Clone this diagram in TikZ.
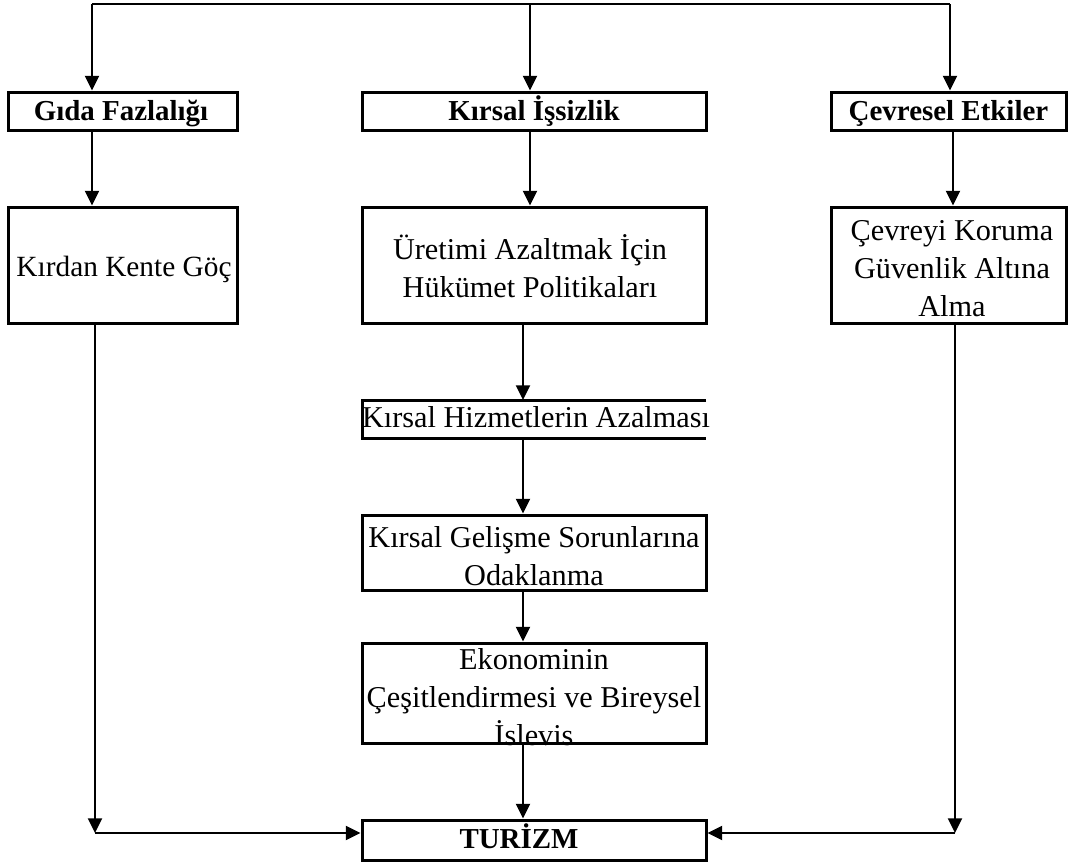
\documentclass[tikz,border=0pt]{standalone}
\usepackage{fontspec}
\setmainfont{Liberation Serif}
\usetikzlibrary{arrows.meta}
\begin{document}
\begin{tikzpicture}[x=0.75pt,y=-0.75pt,
  box/.style={draw,line width=2.25pt,rectangle,inner sep=0pt},
  openbox/.style={rectangle,inner sep=0pt,outer sep=0pt},
  txt/.style={align=center,inner sep=0pt,font=\fontsize{22.7pt}{28.5pt}\selectfont},
  btxt/.style={anchor=base,inner sep=0pt,font=\fontsize{21.7pt}{28.5pt}\selectfont\bfseries},
  conn/.style={line width=1.5pt},
  arr/.style={line width=1.5pt,-{Triangle[length=11pt,width=10.5pt]}}]
\useasboundingbox (0,0) rectangle (1068,861);
% boxes
\node[box,minimum width=171.75pt,minimum height=28.5pt] (gida) at (122.5,111) {};
\node[box,minimum width=258pt,minimum height=28.5pt] (kirsal) at (534,111) {};
\node[box,minimum width=176.25pt,minimum height=28.5pt] (cevre) at (948.5,111) {};
\node[box,minimum width=171.75pt,minimum height=87pt] (kirdan) at (122.5,265) {};
\node[box,minimum width=258pt,minimum height=87pt] (uretim) at (534,265) {};
\node[box,minimum width=176.25pt,minimum height=87pt] (koruma) at (948.5,265) {};
\node[openbox,minimum width=258pt,minimum height=28.5pt] (hizmet) at (534,419) {};
\draw[line width=2.25pt] (hizmet.north east) -- (hizmet.north west) -- (hizmet.south west) -- (hizmet.south east);
\node[box,minimum width=258pt,minimum height=56.25pt] (gelisme) at (534,552.5) {};
\node[box,minimum width=258pt,minimum height=75pt] (ekonomi) at (534,693) {};
\node[box,minimum width=258pt,minimum height=30pt] (turizm) at (534,840) {};
% texts
\node[btxt] (tgida) at (121,120) {Gıda Fazlalığı};
\node[btxt] (tkirsal) at (534,120) {Kırsal İşsizlik};
\node[btxt] (tcevre) at (948.5,120) {Çevresel Etkiler};
\node[txt,anchor=base,font=\fontsize{22pt}{28.5pt}\selectfont] (tkirdan) at (124,276) {Kırdan Kente Göç};
\node[txt] (turetim) at (530,266) {Üretimi Azaltmak İçin\\Hükümet Politikaları};
\node[txt] (tkoruma) at (952,269) {Çevreyi Koruma\\Güvenlik Altına\\Alma};
\node[txt,anchor=base] (thizmet) at (536,427) {Kırsal Hizmetlerin Azalması};
\node[txt] (tgelisme) at (534,556) {Kırsal Gelişme Sorunlarına\\Odaklanma};
\node[txt] (tekonomi) at (534,697) {Ekonominin\\Çeşitlendirmesi ve Bireysel\\İslevis};
\node[btxt] (tturizm) at (519,848) {TURİZM};
% top distribution
\coordinate (tl) at (92,4);
\coordinate (tm) at (530,4);
\coordinate (tr) at (950,4);
\draw[conn] (tl) -- (tr);
\draw[arr] (tl) -- (tl |- gida.north);
\draw[arr] (tm) -- (tm |- kirsal.north);
\draw[arr] (tr) -- (tr |- cevre.north);
% row 1 to row 2
\coordinate (c2r) at (953,0);
\draw[arr] (gida.south -| tl) -- (kirdan.north -| tl);
\draw[arr] (kirsal.south -| tm) -- (uretim.north -| tm);
\draw[arr] (cevre.south -| c2r) -- (koruma.north -| c2r);
% middle chain
\coordinate (mx) at (523,0);
\draw[arr] (uretim.south -| mx) -- (hizmet.north -| mx);
\draw[arr] (hizmet.south -| mx) -- (gelisme.north -| mx);
\draw[arr] (gelisme.south -| mx) -- (ekonomi.north -| mx);
\draw[arr] (ekonomi.south -| mx) -- (turizm.north -| mx);
% sides to tourism
\coordinate (cl) at (95,833);
\coordinate (cr) at (955,833);
\draw[arr] (kirdan.south -| cl) -- (cl);
\draw[arr] (cl) -- (cl -| turizm.west);
\draw[arr] (koruma.south -| cr) -- (cr);
\draw[arr] (cr) -- (cr -| turizm.east);
\end{tikzpicture}
\end{document}
